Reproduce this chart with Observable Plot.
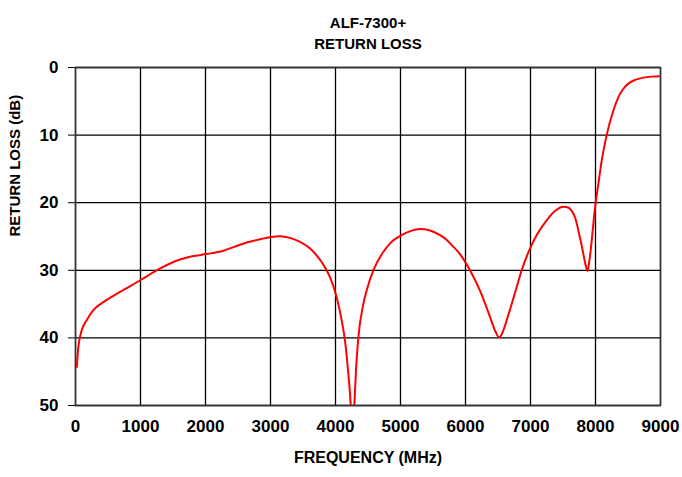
<!DOCTYPE html>
<html>
<head>
<meta charset="utf-8">
<script src="https://cdn.jsdelivr.net/npm/d3@7"></script>
<script src="https://cdn.jsdelivr.net/npm/@observablehq/plot@0.6"></script>
<style>
  html, body { margin: 0; padding: 0; background: #fff; }
</style>
</head>
<body>
<div id="chart"></div>
<script>
const title1 = "ALF-7300+";
const title2 = "RETURN LOSS";
const xLabel = "FREQUENCY (MHz)";
const yLabel = "RETURN LOSS (dB)";
const xTicks = [0, 1000, 2000, 3000, 4000, 5000, 6000, 7000, 8000, 9000];
const yTicks = [0, 10, 20, 30, 40, 50];

const freq = [20, 43, 95, 172, 274, 428, 685, 1008, 1249, 1608, 1813, 2008, 2274, 2450, 2634, 2800, 2992, 3146, 3300, 3454, 3600, 3711, 3864, 3915, 4018, 4095, 4146, 4197, 4234, 4262, 4290, 4315, 4351, 4428, 4500, 4582, 4735, 4850, 5008, 5150, 5300, 5454, 5608, 5711, 5812, 5915, 6069, 6223, 6377, 6454, 6515, 6550, 6582, 6640, 6710, 6790, 6864, 6992, 7100, 7249, 7380, 7505, 7580, 7634, 7690, 7736, 7780, 7823, 7855, 7880, 7905, 7931, 7955, 7977, 8000, 8050, 8095, 8172, 8274, 8377, 8450, 8531, 8620, 8736, 8860, 9000];
const returnLoss = [44.3, 41.4, 38.9, 37.4, 35.9, 34.7, 33.2, 31.4, 30.0, 28.4, 27.9, 27.6, 27.1, 26.5, 25.9, 25.5, 25.1, 24.95, 25.2, 25.8, 26.7, 27.8, 30.0, 31.0, 34.0, 37.4, 40.4, 45.3, 50, 58, 50, 44.8, 40.0, 35.0, 32.3, 30.0, 27.3, 25.9, 24.85, 24.2, 23.9, 24.1, 24.8, 25.5, 26.5, 27.6, 30.0, 33.0, 36.9, 38.9, 39.9, 39.6, 38.9, 37.2, 35.0, 32.4, 30.0, 26.8, 24.7, 22.6, 21.2, 20.6, 20.7, 21.2, 22.3, 24.1, 26.0, 28.1, 29.5, 30.1, 28.6, 26.6, 24.3, 22.1, 20.2, 16.8, 13.8, 10.0, 6.4, 3.9, 2.9, 2.2, 1.8, 1.5, 1.35, 1.3];

const data = freq.map((f, i) => ({f, rl: returnLoss[i]}));

const chart = Plot.plot({
  width: 682,
  height: 477,
  marginTop: 67,
  marginBottom: 72,
  marginLeft: 75,
  marginRight: 22,
  style: {fontFamily: "'Liberation Sans', Arial, sans-serif", fontSize: "17px", fontWeight: "bold", color: "#000", background: "#fff"},
  x: {domain: [0, 9000], ticks: xTicks, tickFormat: "d", tickSize: 0, tickPadding: 14, label: null},
  y: {domain: [0, 50], reverse: true, ticks: yTicks, tickFormat: "d", tickSize: 7, tickPadding: 10, label: null},
  marks: [
    Plot.gridX(xTicks, {stroke: "#000", strokeOpacity: 1, strokeWidth: 1.3}),
    Plot.gridY(yTicks, {stroke: "#000", strokeOpacity: 1, strokeWidth: 1.3}),
    Plot.frame({stroke: "#333", strokeWidth: 1.5}),
    Plot.line(data, {x: "f", y: "rl", stroke: "#ff0000", strokeWidth: 2, curve: "monotone-x", clip: true}),
    Plot.text([title1], {frameAnchor: "top", dy: -50, fontSize: 15, fontWeight: "bold"}),
    Plot.text([title2], {frameAnchor: "top", dy: -29, fontSize: 15, fontWeight: "bold"}),
    Plot.text([xLabel], {frameAnchor: "bottom", dy: 57, fontSize: 16, fontWeight: "bold"}),
    Plot.text([yLabel], {frameAnchor: "left", dx: -60, rotate: -90, fontSize: 15, fontWeight: "bold"})
  ]
});
document.getElementById("chart").appendChild(chart);
</script>
</body>
</html>
